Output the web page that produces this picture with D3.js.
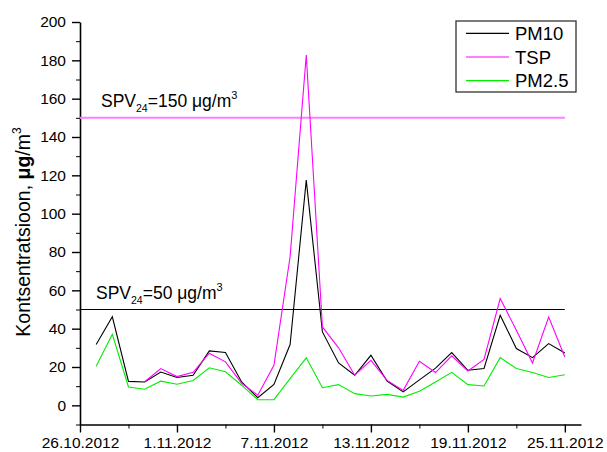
<!DOCTYPE html>
<html>
<head>
<meta charset="utf-8">
<script src="https://cdn.jsdelivr.net/npm/d3@7"></script>
<style>
  body { margin: 0; background: #fff; }
  svg { display: block; font-family: "Liberation Sans", Arial, sans-serif; }
  .axis path, .axis line { stroke: #000; }
  .axis text { fill: #000; font-size: 15.5px; }
</style>
</head>
<body>
<svg id="chart" width="607" height="452"></svg>
<script>
// measurement days
const days = [
  "27.10.2012", "28.10.2012", "29.10.2012", "30.10.2012", "31.10.2012",
  "1.11.2012", "2.11.2012", "3.11.2012", "4.11.2012", "5.11.2012",
  "6.11.2012", "7.11.2012", "8.11.2012", "9.11.2012", "10.11.2012",
  "11.11.2012", "12.11.2012", "13.11.2012", "14.11.2012", "15.11.2012",
  "16.11.2012", "17.11.2012", "18.11.2012", "19.11.2012", "20.11.2012",
  "21.11.2012", "22.11.2012", "23.11.2012", "24.11.2012", "25.11.2012"
]
const pm10 = [31.7, 46.2, 12.5, 12.2, 17.4, 14.5, 15.7, 28.4, 27.6, 12.2,
  4.0, 10.9, 31.7, 117.5, 38.3, 22.1, 15.7, 26.1, 12.7, 7.0,
  13.3, 19.4, 27.5, 18.3, 19.2, 47.0, 29.6, 24.9, 32.2, 27.3]
const tsp = [null, null, null, 12.3, 19.2, 15.0, 17.2, 27.2, 22.7, 11.5,
  5.3, 20.9, 77.5, 182.8, 40.9, 30.0, 15.7, 23.5, 13.0, 7.8,
  23.0, 17.1, 25.8, 17.9, 24.0, 55.7, 39.2, 22.1, 46.1, 25.2]
const pm25 = [20.4, 37.1, 9.6, 8.4, 12.6, 11.0, 13.0, 19.6, 17.5, 10.5,
  2.9, 3.0, 13.9, 24.8, 9.2, 10.8, 6.1, 4.9, 5.7, 4.3,
  7.3, 12.2, 17.2, 10.8, 10.1, 24.9, 19.2, 17.1, 14.5, 16.0]

const xTicks = ["26.10.2012", "1.11.2012", "7.11.2012", "13.11.2012", "19.11.2012", "25.11.2012"]
const xMinor = ["29.10.2012", "4.11.2012", "10.11.2012", "16.11.2012", "22.11.2012"]
const yTicks = [0, 20, 40, 60, 80, 100, 120, 140, 160, 180, 200]
const yMinor = [-10, 10, 30, 50, 70, 90, 110, 130, 150, 170, 190]
const xExtent = ["26.10.2012", "26.11.2012"]
const yExtent = [-10, 200]

const limits = [
  {value: 150, label: "=150 μg/m", color: "#ff80ff", width: 2},
  {value: 50, label: "=50 μg/m", color: "#000", width: 1}
]
const series = [
  {name: "PM10", values: pm10, color: "#000"},
  {name: "TSP", values: tsp, color: "#ff00ff"},
  {name: "PM2.5", values: pm25, color: "#00ee00"}
]

const parse = d3.utcParse("%d.%m.%Y")
const fmt = d3.utcFormat("%-d.%m.%Y")

const svg = d3.select("#chart")
const m = {left: 80, right: 581, top: 22, bottom: 424.5}

const x = d3.scaleUtc().domain(xExtent.map(parse)).range([m.left, m.right])
const y = d3.scaleLinear().domain(yExtent).range([m.bottom, m.top])

// axes
svg.append("g")
  .attr("class", "axis")
  .attr("transform", `translate(0,${m.bottom})`)
  .call(d3.axisBottom(x).tickValues(xMinor.map(parse)).tickSize(4).tickSizeOuter(0).tickFormat(""))
  .call((g) => g.select(".domain").remove())

svg.append("g")
  .attr("class", "axis")
  .attr("transform", `translate(0,${m.bottom})`)
  .call(d3.axisBottom(x).tickValues(xTicks.map(parse)).tickSize(8).tickSizeOuter(0).tickPadding(4).tickFormat(fmt))
  .call((g) => g.select(".domain").attr("stroke-width", 1.6))
  .call((g) => g.selectAll(".tick line").attr("stroke-width", 1.4))

svg.append("g")
  .attr("class", "axis")
  .attr("transform", `translate(${m.left},0)`)
  .call(d3.axisLeft(y).tickValues(yMinor).tickSize(4).tickSizeOuter(0).tickFormat(""))
  .call((g) => g.select(".domain").remove())

svg.append("g")
  .attr("class", "axis")
  .attr("transform", `translate(${m.left},0)`)
  .call(d3.axisLeft(y).tickValues(yTicks).tickSize(8).tickSizeOuter(0).tickPadding(6))
  .call((g) => g.select(".domain").attr("stroke-width", 1.6))
  .call((g) => g.selectAll(".tick line").attr("stroke-width", 1.4))

// limit lines
const lastDay = parse(days[days.length - 1])
limits.forEach((l, i) => {
  svg.append("line")
    .attr("x1", m.left).attr("x2", x(lastDay))
    .attr("y1", y(l.value)).attr("y2", y(l.value))
    .attr("stroke", l.color).attr("stroke-width", l.width)

  const t = svg.append("text")
    .attr("x", i === 0 ? 101 : 96)
    .attr("y", y(l.value) - 11)
    .attr("font-size", "17.5px")
  t.append("tspan").text("SPV")
  t.append("tspan").attr("font-size", "10.5px").attr("dy", 5).text("24")
  t.append("tspan").attr("dy", -5).text(l.label)
  t.append("tspan").attr("font-size", "11px").attr("dy", -8).text("3")
})

// series lines
const line = d3.line()
  .defined((d) => d.v != null)
  .x((d) => x(d.date))
  .y((d) => y(d.v))

series.forEach((s) => {
  const pts = days.map((d, i) => ({date: parse(d), v: s.values[i]}))
  svg.append("path")
    .datum(pts)
    .attr("fill", "none")
    .attr("stroke", s.color)
    .attr("stroke-width", 1.1)
    .attr("d", line)
})

// y axis title
const title = svg.append("text")
  .attr("transform", "translate(30,232) rotate(-90)")
  .attr("text-anchor", "middle")
  .attr("font-size", "19.5px")
title.append("tspan").text("Kontsentratsioon, ")
title.append("tspan").attr("font-weight", "bold").text("μg")
title.append("tspan").text("/m")
title.append("tspan").attr("font-size", "12px").attr("dy", -9).text("3")

// legend
const legend = svg.append("g").attr("transform", "translate(456,21)")
legend.append("rect")
  .attr("width", 120).attr("height", 71)
  .attr("fill", "#fff").attr("stroke", "#333").attr("stroke-width", 1.3)
series.forEach((s, i) => {
  const ly = 12.3 + i * 23.7
  legend.append("line")
    .attr("x1", 10).attr("x2", 53)
    .attr("y1", ly).attr("y2", ly)
    .attr("stroke", s.color).attr("stroke-width", 1.2)
  legend.append("text")
    .attr("x", 59).attr("y", ly)
    .attr("dy", "0.36em")
    .attr("font-size", "18.5px")
    .text(s.name)
})
</script>
</body>
</html>
